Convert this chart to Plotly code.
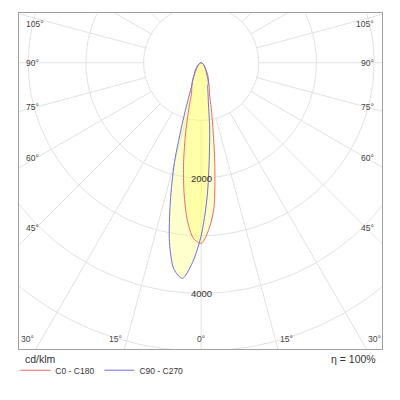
"""
Polar light distribution (cd/klm) for the C0-C180 and C90-C270 planes,
drawn on a clipped polar grid like a luminaire datasheet.
"""
import numpy as np
import plotly.graph_objects as go

# gamma angles from nadir (deg) and intensities per half-plane (cd/klm)
GAMMA = [0, 2.5, 5, 7.5, 10, 12.5, 15, 17.5, 20, 22.5, 25, 27.5, 30, 35, 40, 45, 50, 60, 70, 80, 90]
I_C0 = [3134, 2910, 2534, 1819, 1194, 805, 557, 473, 389, 305, 235, 200, 170, 130, 100, 80, 60, 35, 15, 5, 0]
I_C180 = [3134, 3050, 2747, 2275, 1755, 1245, 825, 553, 477, 420, 360, 300, 245, 150, 110, 85, 60, 35, 15, 5, 0]
I_C90 = [3000, 2345, 1629, 1122, 726, 552, 438, 400, 362, 324, 285, 250, 210, 130, 100, 80, 60, 35, 15, 5, 0]
I_C270 = [3000, 3469, 3754, 3613, 3166, 2470, 1788, 1044, 620, 422, 357, 292, 240, 190, 145, 108, 85, 50, 25, 10, 0]

PLANES = ["C0 - C180", "C90 - C270"]
RINGS = [1000, 2000, 3000, 4000, 5000, 6000]
RING_LABELS = [2000, 4000]
SPOKES = list(range(0, 360, 15))
SIDE_TICKS = [45, 60, 75, 90, 105]
BOTTOM_TICKS = [0, 15, 30]

LINE_COLORS = ["rgb(238,105,105)", "rgb(110,110,225)"]
FILL = "rgba(255,255,90,0.3)"
GRID = "#e2e2e2"
FONT = "Liberation Sans, Arial, sans-serif"

# visible window of the grid, in cd/klm around the light centre
X_RANGE = [-3160, 3137]
Y_RANGE = [-4965, 863]
U = 1000 / 57.7  # data units per pixel


def to_xy(theta_deg, r):
    t = np.radians(np.asarray(theta_deg, dtype=float))
    r = np.asarray(r, dtype=float)
    return r * np.sin(t), -r * np.cos(t)


def plane_curve(left, right):
    g = np.array(GAMMA)
    theta = np.concatenate([-g[::-1], g[1:]])
    r = np.concatenate([np.array(left)[::-1], np.array(right)[1:]])
    return to_xy(theta, r)


fig = go.Figure()

# grid: rings and spokes
t = np.linspace(0, 360, 361)
for r in RINGS:
    x, y = to_xy(t, np.full_like(t, r))
    fig.add_trace(go.Scatter(x=x, y=y, mode="lines", line=dict(color=GRID, width=1),
                             hoverinfo="skip", showlegend=False))
for a in SPOKES:
    x, y = to_xy([a, a], [1000, 9000])
    fig.add_trace(go.Scatter(x=x, y=y, mode="lines", line=dict(color=GRID, width=1),
                             hoverinfo="skip", showlegend=False))

curves = [plane_curve(I_C180, I_C0), plane_curve(I_C270, I_C90)]

# fills first, outlines on top
for x, y in curves:
    fig.add_trace(go.Scatter(x=x, y=y, mode="lines", fill="toself", fillcolor=FILL,
                             line=dict(width=0, shape="spline", smoothing=0.8),
                             hoverinfo="skip", showlegend=False))
for (x, y), name, color in zip(curves, PLANES, LINE_COLORS):
    fig.add_trace(go.Scatter(x=x, y=y, mode="lines", name=name,
                             line=dict(color=color, width=1, shape="spline", smoothing=0.8)))

ann = []
tick_font = dict(family=FONT, size=8.5, color="#444")

# angle labels along the sides
x_ref = 165 * U
y_cap = Y_RANGE[1] - 11 * U
for a in SIDE_TICKS:
    rad = np.radians(a)
    y = min(-x_ref * np.cos(rad) / np.sin(rad), y_cap)
    ann.append(dict(x=X_RANGE[0] + 5 * U, y=y, text=f"{a}°", xanchor="left",
                    yanchor="middle", showarrow=False, font=tick_font))
    ann.append(dict(x=X_RANGE[1] - 6 * U, y=y, text=f"{a}°", xanchor="right",
                    yanchor="middle", showarrow=False, font=tick_font))

# angle labels along the bottom
yb = Y_RANGE[0] + 10 * U
for a in BOTTOM_TICKS:
    xb = -Y_RANGE[0] * np.tan(np.radians(a))
    if a == 0:
        ann.append(dict(x=0, y=yb, text=f"{a}°", xanchor="center", yanchor="middle",
                        showarrow=False, font=tick_font))
        continue
    ann.append(dict(x=-xb, y=yb, text=f"{a}°", xanchor="right", yanchor="middle",
                    showarrow=False, font=tick_font))
    ann.append(dict(x=xb, y=yb, text=f"{a}°", xanchor="left", yanchor="middle",
                    showarrow=False, font=tick_font))

# ring values on the nadir axis
for r in RING_LABELS:
    ann.append(dict(x=0, y=-r, text=str(r), showarrow=False,
                    font=dict(family=FONT, size=9.5, color="#333")))

ann.append(dict(xref="paper", yref="paper", x=0.012, y=-0.03, text="cd/klm",
                xanchor="left", yanchor="middle", showarrow=False,
                font=dict(family=FONT, size=10.5, color="#333")))
ann.append(dict(xref="paper", yref="paper", x=0.988, y=-0.03, text="η = 100%",
                xanchor="right", yanchor="middle", showarrow=False,
                font=dict(family=FONT, size=10.5, color="#333")))

axis = dict(showgrid=False, zeroline=False, showticklabels=False, ticks="",
            showline=True, mirror=True, linecolor="#a0a0a0", linewidth=1, fixedrange=True)

# page body keeps an 8px margin, so the figure is 392 px and margins are shifted
fig.update_layout(
    width=392, height=392,
    margin=dict(l=11, r=18, t=5, b=51),
    paper_bgcolor="white", plot_bgcolor="white",
    xaxis=dict(range=X_RANGE, **axis),
    yaxis=dict(range=Y_RANGE, **axis),
    annotations=ann,
    showlegend=True,
    legend=dict(orientation="h", x=-0.01, xanchor="left", y=-0.02, yanchor="top",
                font=dict(family=FONT, size=8.5, color="#333"),
                bgcolor="rgba(0,0,0,0)", itemwidth=30, tracegroupgap=0),
    font=dict(family=FONT),
)

fig.write_html("out.html")
